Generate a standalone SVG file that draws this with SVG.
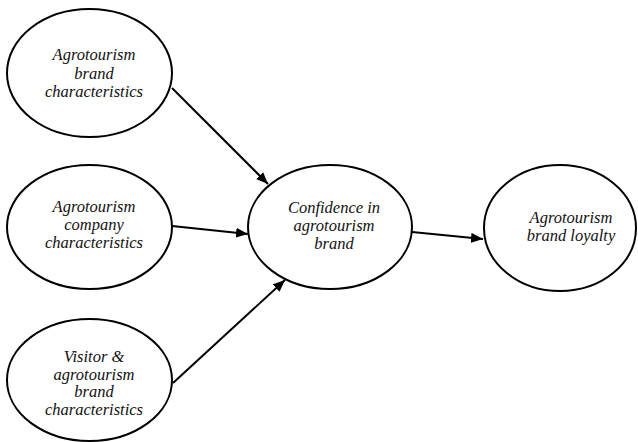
<svg xmlns="http://www.w3.org/2000/svg" width="638" height="442" viewBox="0 0 638 442">
<style>
.n ellipse{fill:#fff;stroke:#000;stroke-width:2}
.c line{stroke:#000;stroke-width:2;marker-end:url(#ah)}
</style>
<defs>
<marker id="ah" viewBox="0 0 12 10" refX="12" refY="5" markerWidth="12" markerHeight="10" markerUnits="userSpaceOnUse" orient="auto">
<path d="M0,0 L12,5 L0,10 Z" fill="#000"/>
</marker>
</defs>
<rect width="638" height="442" fill="#fff"/>
<g font-family="Liberation Serif, Times New Roman, serif" font-style="italic" font-size="16.5" fill="#111" text-anchor="middle">
<g id="n1" class="n"><ellipse cx="89.5" cy="73" rx="82.5" ry="64"/>
<text x="94" y="60">Agrotourism</text><text x="94" y="78.5">brand</text><text x="94" y="97">characteristics</text></g>
<g id="n2" class="n"><ellipse cx="89.5" cy="227" rx="82.5" ry="62"/>
<text x="94" y="212">Agrotourism</text><text x="94" y="230">company</text><text x="94" y="248">characteristics</text></g>
<g id="n3" class="n"><ellipse cx="89.5" cy="380" rx="82.5" ry="61"/>
<text x="94" y="362">Visitor &amp;</text><text x="94" y="379.5">agrotourism</text><text x="94" y="397">brand</text><text x="94" y="414.5">characteristics</text></g>
<g id="n4" class="n"><ellipse cx="330" cy="227" rx="82" ry="62"/>
<text x="334" y="213">Confidence in</text><text x="334" y="231">agrotourism</text><text x="334" y="248.5">brand</text></g>
<g id="n5" class="n"><ellipse cx="560" cy="228" rx="76" ry="63"/>
<text x="571" y="223">Agrotourism</text><text x="571" y="240.5">brand loyalty</text></g>
</g>
<g id="connectors" class="c">
<line x1="172" y1="88" x2="268" y2="184"/>
<line x1="172" y1="226" x2="248" y2="234"/>
<line x1="173" y1="383" x2="285" y2="280"/>
<line x1="412" y1="232" x2="483" y2="239"/>
</g>
</svg>
